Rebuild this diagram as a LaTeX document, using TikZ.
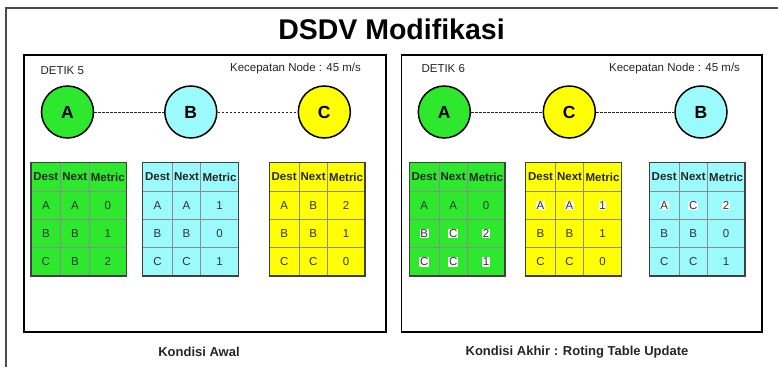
\documentclass[tikz,border=0pt]{standalone}
\usepackage{fontspec}
\setmainfont{Liberation Sans}
\begin{document}
\begin{tikzpicture}[x=1pt,y=-1pt]
\definecolor{nodegreen}{RGB}{45,232,45}
\definecolor{nodecyan}{RGB}{155,250,252}
\definecolor{nodeyellow}{RGB}{255,255,0}
\definecolor{textgray}{RGB}{51,51,51}
\tikzset{
  frameline/.style={line width=1.3pt,draw=black!70},
  panel/.style={line width=1.8pt,draw=black},
  mobile/.style={circle,draw=black,line width=1.5pt,minimum size=52pt,inner sep=0pt,
                 font=\fontsize{17.5}{17.5}\selectfont\bfseries},
  link/.style={line width=0.7pt,draw=black!85,dash pattern=on 2.5pt off 1.5pt},
  gridln/.style={line width=0.8pt,draw=black!45},
  tblborder/.style={line width=1.3pt,draw=black!75},
  head/.style={font=\fontsize{11.5}{11.5}\selectfont\bfseries,text=black!85,inner sep=0pt},
  cell/.style={font=\fontsize{11.5}{11.5}\selectfont,text=textgray,inner sep=0pt},
  plain/.style={},
  hl/.style={fill=white,inner sep=0.6pt},
  caption/.style={font=\fontsize{11.5}{11.5}\selectfont,text=black!85},
  footnote/.style={font=\fontsize{13}{13}\selectfont\bfseries,text=black!85}
}
% routing table: #1 name, #2 left x, #3 fill, #4 rows dest/next/metric/style
\newcommand{\routetable}[4]{%
  \begin{scope}[shift={(#2,0)}]
    \fill[#3] (0,162.7) rectangle (95.7,276);
    \draw[gridln] (29.7,162.7) -- (29.7,276) (58,162.7) -- (58,276)
      (0,191) -- (95.7,191) (0,219.3) -- (95.7,219.3) (0,247.7) -- (95.7,247.7);
    \draw[tblborder] (0,162.7) rectangle (95.7,276);
    \node[head] (#1-h1) at (14.85,176.9) {Dest};
    \node[head] (#1-h2) at (43.85,176.9) {Next};
    \node[head] (#1-h3) at (76.85,176.9) {Metric};
    \foreach \d/\n/\m/\s [count=\r] in {#4} {
      \node[cell,\s] (#1-\r-1) at (14.85,176.9+28.35*\r) {\d};
      \node[cell,\s] (#1-\r-2) at (43.85,176.9+28.35*\r) {\n};
      \node[cell,\s] (#1-\r-3) at (76.85,176.9+28.35*\r) {\m};
    }
  \end{scope}}

\useasboundingbox (0,0) rectangle (778,367);
\fill[white] (0,0) rectangle (778,367);

% outer frame
\draw[frameline] (6,367) -- (6,8) -- (778,8);
\node[font=\fontsize{28.5}{28.5}\selectfont\bfseries] (title) at (391.5,29) {DSDV Modifikasi};

% panels
\draw[panel] (24,55) rectangle (386,332);
\draw[panel] (401.5,55) rectangle (762,332);

% left panel: second 5
\node[caption,anchor=west] (t5) at (37,71) {DETIK 5};
\node[caption,anchor=east] (v5) at (364.5,69) {Kecepatan Node : 45 m/s};
\node[mobile,fill=nodegreen] (a5) at (67.5,112) {A};
\node[mobile,fill=nodecyan] (b5) at (190.8,112) {B};
\node[mobile,fill=nodeyellow] (c5) at (324.3,112) {C};
\draw[link] (a5) -- (b5);
\draw[link] (b5) -- (c5);

\routetable{ta5}{31}{nodegreen}{A/A/0/plain,B/B/1/plain,C/B/2/plain}
\routetable{tb5}{142.7}{nodecyan}{A/A/1/plain,B/B/0/plain,C/C/1/plain}
\routetable{tc5}{269.3}{nodeyellow}{A/B/2/plain,B/B/1/plain,C/C/0/plain}

% right panel: second 6
\node[caption,anchor=west] (t6) at (418,69) {DETIK 6};
\node[caption,anchor=east] (v6) at (743.5,69) {Kecepatan Node : 45 m/s};
\node[mobile,fill=nodegreen] (a6) at (444.3,112) {A};
\node[mobile,fill=nodeyellow] (c6) at (569.3,112) {C};
\node[mobile,fill=nodecyan] (b6) at (701,112) {B};
\draw[link] (a6) -- (c6);
\draw[link] (c6) -- (b6);

\routetable{ta6}{409.3}{nodegreen}{A/A/0/plain,B/C/2/hl,C/C/1/hl}
\routetable{tc6}{525.7}{nodeyellow}{A/A/1/hl,B/B/1/plain,C/C/0/plain}
\routetable{tb6}{649.3}{nodecyan}{A/C/2/hl,B/B/0/plain,C/C/1/plain}

% captions below the panels
\node[footnote] (k1) at (199,352) {Kondisi Awal};
\node[footnote] (k2) at (577,352) {Kondisi Akhir : Roting Table Update};
\end{tikzpicture}
\end{document}
